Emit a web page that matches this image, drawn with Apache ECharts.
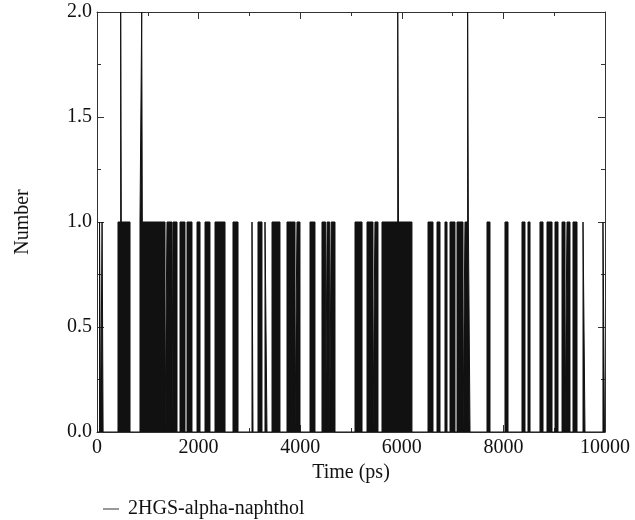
<!DOCTYPE html>
<html>
<head>
<meta charset="utf-8">
<script src="https://cdn.jsdelivr.net/npm/echarts@6/dist/echarts.min.js"></script>
<style>
html,body{margin:0;padding:0;background:#fff;}
#c{width:635px;height:520px;}
</style>
</head>
<body>
<div id="c"></div>
<script>
// Change points of the H-bond count (ps) and the count held from that time on
const times = [
  0, 50, 70, 100, 120,
  413, 466, 478, 650,
  846, 880, 892, 1339,
  1378, 1476, 1496, 1575, 1634, 1732, 1772, 1870,
  1969, 2028, 2126, 2224, 2323, 2520, 2677, 2776,
  3051, 3071, 3169, 3248, 3307, 3346, 3445, 3602,
  3740, 3898, 3937, 3996, 4193, 4291,
  4429, 4500, 4530, 4580, 4610, 4685,
  5079, 5217, 5315, 5433, 5472, 5531,
  5610, 5920, 5935, 6200,
  6516, 6614, 6693, 6752, 6850, 6890, 6949, 7047, 7087, 7205,
  7244, 7296, 7310, 7343,
  7677, 7736, 8031, 8091, 8366, 8425, 8484, 8524,
  8720, 8780, 8858, 8957, 9016, 9075, 9154, 9213, 9252, 9311,
  9370, 9449, 9567, 9606, 9960, 9990, 10000
];
const counts = [
  0, 1, 0, 1, 0,
  1, 2, 1, 0,
  1, 2, 1, 0,
  1, 0, 1, 0, 1, 0, 1, 0,
  1, 0, 1, 0, 1, 0, 1, 0,
  1, 0, 1, 0, 1, 0, 1, 0,
  1, 0, 1, 0, 1, 0,
  1, 0, 1, 0, 1, 0,
  1, 0, 1, 0, 1, 0,
  1, 2, 1, 0,
  1, 0, 1, 0, 1, 0, 1, 0, 1, 0,
  1, 2, 1, 0,
  1, 0, 1, 0, 1, 0, 1, 0,
  1, 0, 1, 0, 1, 0, 1, 0, 1, 0,
  1, 0, 1, 0, 1, 0, 0
];
const seriesName = '2HGS-alpha-naphthol';
const xTitle = 'Time (ps)';
const yTitle = 'Number';

const font = 'Liberation Serif';
const ink = '#111';
const data = times.map((t, i) => [t, counts[i]]);

const xBase = {
  type: 'value', min: 0, max: 10000, interval: 2000,
  axisLine: { show: true, onZero: false, lineStyle: { color: '#333', width: 1 } },
  axisTick: { show: true, inside: true, length: 7, lineStyle: { color: '#333' } },
  minorTick: { show: true, splitNumber: 2, length: 4, lineStyle: { color: '#333' } },
  splitLine: { show: false }
};
const yBase = {
  type: 'value', min: 0, max: 2, interval: 0.5,
  axisLine: { show: true, onZero: false, lineStyle: { color: '#333', width: 1 } },
  axisTick: { show: true, inside: true, length: 7, lineStyle: { color: '#333' } },
  minorTick: { show: true, splitNumber: 2, length: 4, lineStyle: { color: '#333' } },
  splitLine: { show: false }
};

const chart = echarts.init(document.getElementById('c'), null, { renderer: 'canvas' });
chart.setOption({
  animation: false,
  backgroundColor: '#fff',
  grid: { left: 97, right: 30, top: 12, bottom: 88, containLabel: false },
  legend: {
    left: 98, top: 494,
    itemWidth: 16, itemHeight: 2, itemGap: 10,
    textStyle: { fontFamily: font, fontSize: 20, color: ink, padding: [0, 0, 0, 4] },
    data: [{ name: seriesName, icon: 'rect', itemStyle: { color: '#999' } }]
  },
  xAxis: [
    Object.assign({}, xBase, {
      position: 'bottom',
      name: xTitle, nameLocation: 'middle', nameGap: 26,
      nameTextStyle: { fontFamily: font, fontSize: 20, color: ink },
      axisLabel: { fontFamily: font, fontSize: 20, color: ink, margin: 6,
        formatter: v => String(v) }
    }),
    Object.assign({}, xBase, { position: 'top', axisLabel: { show: false } })
  ],
  yAxis: [
    Object.assign({}, yBase, {
      position: 'left',
      name: yTitle, nameLocation: 'middle', nameGap: 64,
      nameTextStyle: { fontFamily: font, fontSize: 20, color: ink },
      axisLabel: { fontFamily: font, fontSize: 20, color: ink, margin: 5,
        formatter: v => v.toFixed(1) }
    }),
    Object.assign({}, yBase, { position: 'right', axisLabel: { show: false } })
  ],
  series: [{
    name: seriesName,
    type: 'line',
    step: 'end',
    xAxisIndex: 0, yAxisIndex: 0,
    showSymbol: false, symbol: 'none',
    lineStyle: { color: ink, width: 1 },
    itemStyle: { color: ink },
    areaStyle: { color: ink, opacity: 1 },
    data: data
  }]
});
</script>
</body>
</html>
